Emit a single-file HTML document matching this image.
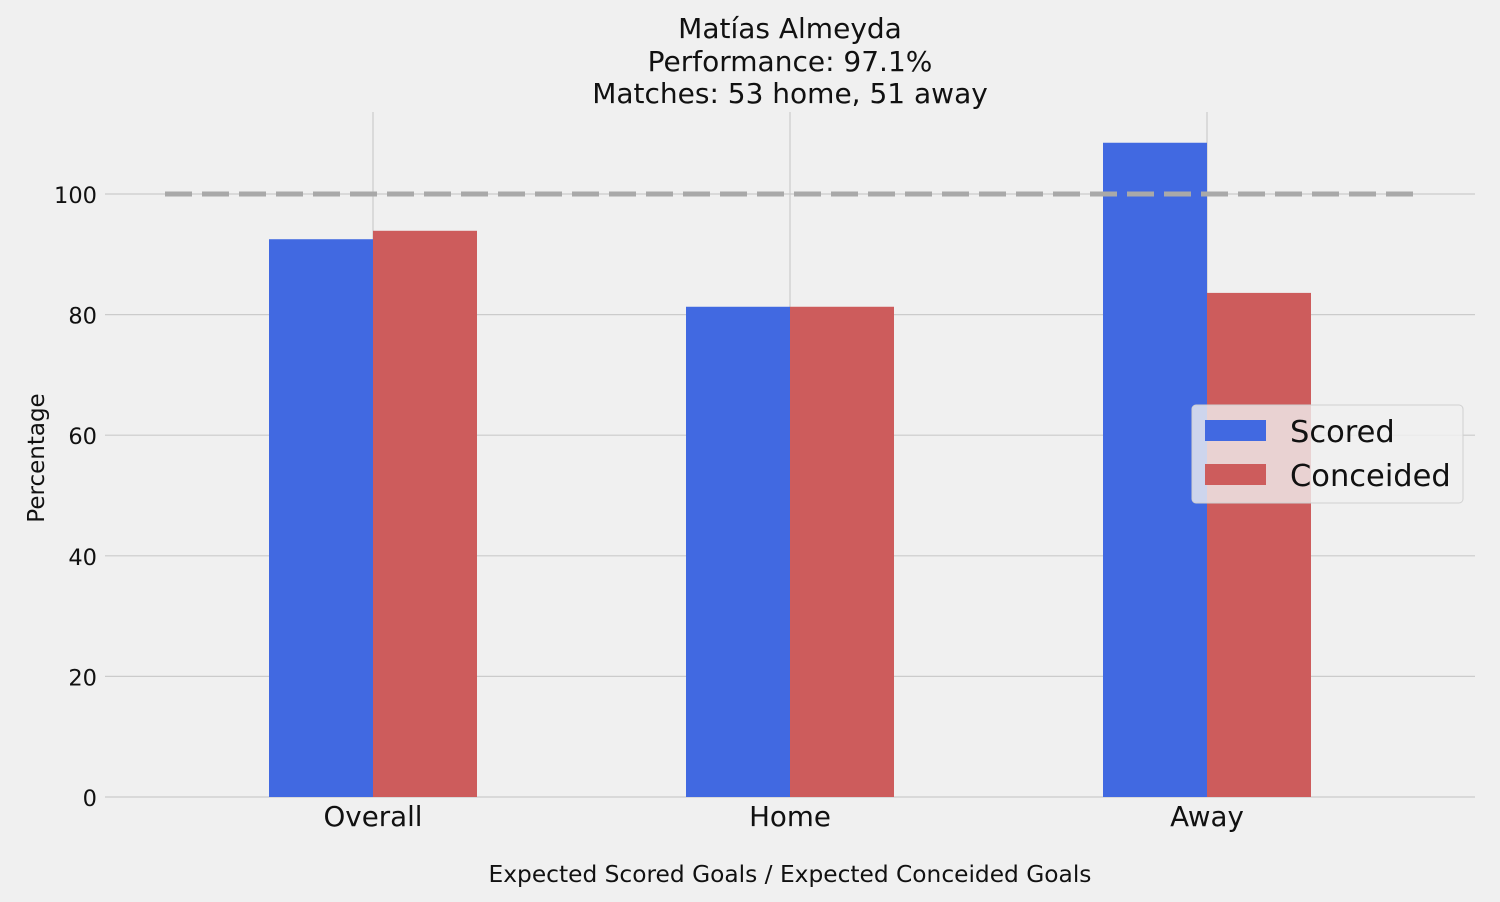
<!DOCTYPE html>
<html><head><meta charset="utf-8"><style>
body{margin:0;background:#f0f0f0;}
svg{display:block;font-family:"DejaVu Sans","Liberation Sans",sans-serif;}
</style></head><body>
<svg id="chart" width="1500" height="902" viewBox="0 0 1500 902">
<rect x="0" y="0" width="1500" height="902" fill="#f0f0f0"/>
<g id="grid"></g>
<g id="bars"></g>
<g id="ref"></g>
<g id="axes"></g>
<text x="790" y="38" text-anchor="middle" font-size="28" fill="#111">Matías Almeyda</text>
<text x="790" y="71" text-anchor="middle" font-size="28" fill="#111">Performance: 97.1%</text>
<text x="790" y="103" text-anchor="middle" font-size="28" fill="#111">Matches: 53 home, 51 away</text>
<text x="790" y="882" text-anchor="middle" font-size="23.3" fill="#111">Expected Scored Goals / Expected Conceided Goals</text>
<text transform="translate(44,458) rotate(-90)" text-anchor="middle" font-size="23" fill="#111">Percentage</text>
<g>
<rect x="1192" y="405" width="271" height="98" rx="4" fill="#f0f0f0" fill-opacity="0.8" stroke="#d0d0d0"/>
<rect x="1205" y="420" width="61" height="21" fill="#4169e1"/>
<text x="1290" y="442" font-size="30.5" fill="#111">Scored</text>
<rect x="1205" y="464" width="61" height="21" fill="#cd5c5c"/>
<text x="1290" y="486" font-size="30.5" fill="#111">Conceided</text>
</g>
</svg>
<script>
const categories = ["Overall","Home","Away"];
const scored = [92.5, 81.3, 108.5];
const conceded = [93.9, 81.3, 83.6];
const yTicks = [0,20,40,60,80,100];
const refValue = 100;

const NS="http://www.w3.org/2000/svg";
const plotL=105, plotR=1475, plotT=112;
const y0=797, pxPerUnit=6.03;
function yScale(v){return y0 - v*pxPerUnit;}
function xScale(i){return 373 + i*417;}
const barW=104;
function mk(tag,attrs,parent){const e=document.createElementNS(NS,tag);for(const k in attrs)e.setAttribute(k,attrs[k]);parent.appendChild(e);return e;}
const grid=document.getElementById('grid'), bars=document.getElementById('bars'), axes=document.getElementById('axes'), ref=document.getElementById('ref');
yTicks.forEach(t=>{
  const l=mk('line',{x1:plotL,x2:plotR,y1:yScale(t),y2:yScale(t),stroke:'#cbcbcb','stroke-width':1.2},grid);
  
  
  const tx=mk('text',{x:97,y:yScale(t)+9,'text-anchor':'end','font-size':22.5,fill:'#111'},axes);
  tx.textContent=t;
  
  
});
categories.forEach((c,i)=>{
  const l=mk('line',{x1:xScale(i),x2:xScale(i),y1:plotT,y2:y0,stroke:'#cbcbcb','stroke-width':1.2},grid);
  
  
  const b1=mk('rect',{x:xScale(i)-barW,y:yScale(scored[i]),width:barW,height:y0-yScale(scored[i]),fill:'#4169e1'},bars);
  
  
  const b2=mk('rect',{x:xScale(i),y:yScale(conceded[i]),width:barW,height:y0-yScale(conceded[i]),fill:'#cd5c5c'},bars);
  
  
  const tx=mk('text',{x:xScale(i),y:826,'text-anchor':'middle','font-size':27.7,fill:'#111'},axes);
  tx.textContent=c;
  
  
});
const rl=mk('line',{x1:165,x2:1415,y1:yScale(refValue),y2:yScale(refValue),stroke:'#a9a9a9','stroke-width':5,'stroke-dasharray':'27 10'},ref);


</script>
</body></html>
